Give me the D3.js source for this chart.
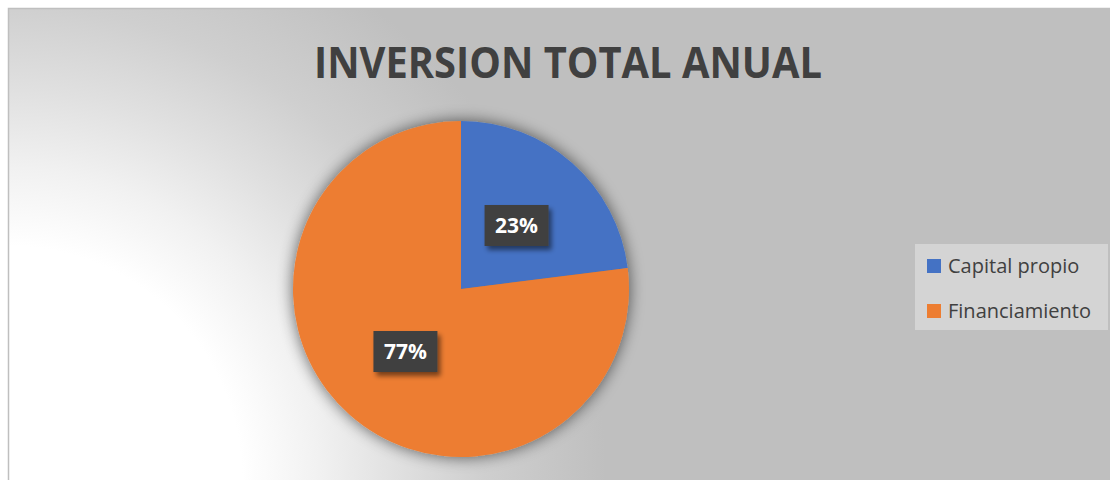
<!DOCTYPE html>
<html>
<head>
<meta charset="utf-8">
<script src="https://cdn.jsdelivr.net/npm/d3@7"></script>
<style>
  html, body { margin: 0; padding: 0; background: #fff; }
  svg { display: block; }
</style>
</head>
<body>
<script>
// Annual investment split
const categories = ["Capital propio", "Financiamiento"];
const shares = [23, 77];
const colors = ["#4472C4", "#ED7D31"];
const title = "INVERSION TOTAL ANUAL";

const W = 1110, H = 480;
const svg = d3.select("body").append("svg").attr("width", W).attr("height", H);
const defs = svg.append("defs");

// Chart area background: radial fade from the lower-left corner
const bg = defs.append("radialGradient")
  .attr("id", "bgGrad").attr("gradientUnits", "userSpaceOnUse")
  .attr("cx", 8).attr("cy", 480).attr("r", 650);
[
  [0, "#ffffff"], [0.36, "#ffffff"], [0.48, "#f1f1f1"], [0.6, "#e0e0e0"],
  [0.73, "#cfcfcf"], [0.92, "#bfbfbf"], [1, "#bfbfbf"]
].forEach(([o, c]) => bg.append("stop").attr("offset", o).attr("stop-color", c));

// Soft shadow around the pie
const sh = defs.append("filter").attr("id", "pieShadow")
  .attr("x", "-30%").attr("y", "-30%").attr("width", "160%").attr("height", "160%");
sh.append("feGaussianBlur").attr("in", "SourceAlpha").attr("stdDeviation", 8).attr("result", "b");
sh.append("feComponentTransfer").attr("in", "b").attr("result", "b2")
  .append("feFuncA").attr("type", "linear").attr("slope", 0.6);
const m = sh.append("feMerge");
m.append("feMergeNode").attr("in", "b2");
m.append("feMergeNode").attr("in", "SourceGraphic");

// Shadow for the value labels
const ls = defs.append("filter").attr("id", "labShadow")
  .attr("x", "-30%").attr("y", "-30%").attr("width", "160%").attr("height", "170%");
ls.append("feGaussianBlur").attr("in", "SourceAlpha").attr("stdDeviation", 2.5).attr("result", "b");
ls.append("feOffset").attr("in", "b").attr("dx", 3).attr("dy", 4).attr("result", "o");
ls.append("feComponentTransfer").attr("in", "o").attr("result", "o2")
  .append("feFuncA").attr("type", "linear").attr("slope", 0.5);
const lm = ls.append("feMerge");
lm.append("feMergeNode").attr("in", "o2");
lm.append("feMergeNode").attr("in", "SourceGraphic");

svg.append("rect")
  .attr("x", 8.5).attr("y", 8.5).attr("width", W + 5).attr("height", H + 5)
  .attr("fill", "url(#bgGrad)").attr("stroke", "#bfbfbf").attr("stroke-width", 1.5);

// Title
svg.append("text")
  .attr("x", 568).attr("y", 78)
  .attr("text-anchor", "middle")
  .attr("font-family", "'Open Sans', 'Noto Sans', sans-serif")
  .attr("font-weight", 700)
  .attr("font-size", 43)
  .attr("fill", "#404040")
  .attr("textLength", 508)
  .attr("lengthAdjust", "spacingAndGlyphs")
  .text(title);

// Pie
const cx = 461, cy = 289, R = 168;
const data = categories.map((c, i) => ({ name: c, value: shares[i], color: colors[i] }));
const pie = d3.pie().value(d => d.value).sort(null);
const arc = d3.arc().innerRadius(0).outerRadius(R);
const arcs = pie(data);

const g = svg.append("g").attr("transform", `translate(${cx},${cy})`);
g.append("g").attr("filter", "url(#pieShadow)")
  .selectAll("path").data(arcs).join("path")
  .attr("d", arc)
  .attr("fill", d => d.data.color);

// Value labels on dark boxes
const labelArc = d3.arc().innerRadius(R * 0.5).outerRadius(R * 0.5);
const fmt = d => d.data.value + "%";
const lab = g.selectAll("g.lab").data(arcs).join("g").attr("class", "lab")
  .attr("transform", d => {
    const [x, y] = labelArc.centroid(d);
    return `translate(${x},${y})`;
  });
lab.append("rect")
  .attr("x", -32).attr("y", -21).attr("width", 64).attr("height", 41)
  .attr("fill", "#404040").attr("filter", "url(#labShadow)");
lab.append("text")
  .attr("text-anchor", "middle").attr("dy", "0.35em")
  .attr("font-family", "'Open Sans', 'Noto Sans', sans-serif")
  .attr("font-weight", 700).attr("font-size", 21)
  .attr("fill", "#ffffff")
  .text(fmt);

// Legend
const leg = svg.append("g").attr("transform", "translate(915,244)");
leg.append("rect").attr("width", 193).attr("height", 86).attr("fill", "#d4d4d4");
const items = leg.selectAll("g.item").data(data).join("g").attr("class", "item")
  .attr("transform", (d, i) => `translate(12,${22 + i * 45})`);
items.append("rect").attr("x", 0).attr("y", -7).attr("width", 14).attr("height", 14)
  .attr("fill", d => d.color);
items.append("text").attr("x", 21).attr("dy", "0.35em")
  .attr("font-family", "'Open Sans', 'Noto Sans', sans-serif")
  .attr("font-size", 20).attr("fill", "#404040")
  .text(d => d.name);
</script>
</body>
</html>
